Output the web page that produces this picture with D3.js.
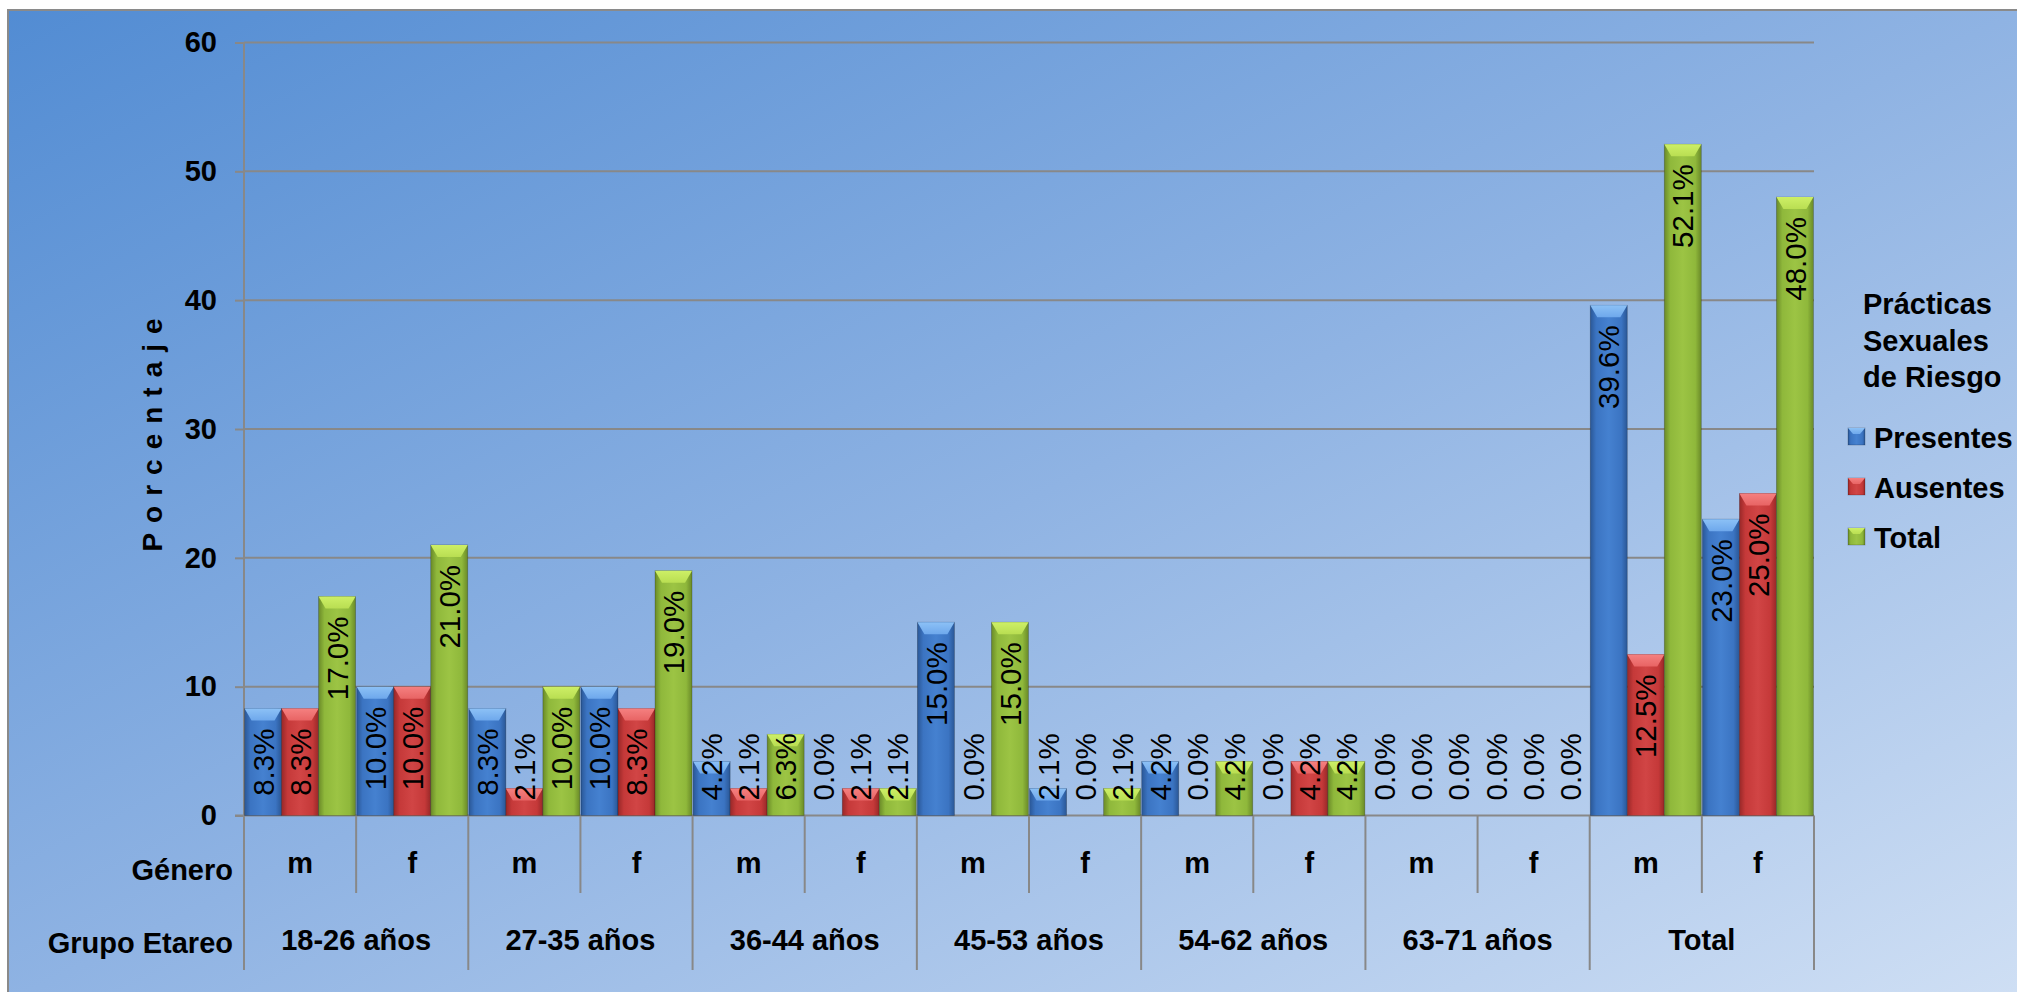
<!DOCTYPE html>
<html><head><meta charset="utf-8">
<script src="https://cdn.jsdelivr.net/npm/d3@7/dist/d3.min.js"></script>
<style>
html,body{margin:0;padding:0;background:#fff;}
svg{display:block;}
text{font-family:"Liberation Sans",Arial,Helvetica,sans-serif;}
</style></head>
<body>
<script>
// ---- data ----
const groups = ["18-26 años","27-35 años","36-44 años","45-53 años","54-62 años","63-71 años","Total"];
const genders = ["m","f"];
const seriesNames = ["Presentes","Ausentes","Total"];
const presentes = [8.3,10.0, 8.3,10.0, 4.2,0.0, 15.0,2.1, 4.2,0.0, 0.0,0.0, 39.6,23.0];
const ausentes  = [8.3,10.0, 2.1,8.3, 2.1,2.1, 0.0,0.0, 0.0,4.2, 0.0,0.0, 12.5,25.0];
const totales   = [17.0,21.0, 10.0,19.0, 6.3,2.1, 15.0,2.1, 4.2,4.2, 0.0,0.0, 52.1,48.0];
const yTicks = [0,10,20,30,40,50,60];
const legendTitle = ["Prácticas","Sexuales","de Riesgo"];
const yTitle = "Porcentaje";
const genderTitle = "Género";
const groupTitle = "Grupo Etareo";

const W = 2017, H = 992;
const svg = d3.select("body").append("svg").attr("width",W).attr("height",H);
const defs = svg.append("defs");

// backgrounds
const bg = defs.append("linearGradient").attr("id","bg").attr("x1",0).attr("y1",0).attr("x2",1).attr("y2",1);
bg.append("stop").attr("offset",0).attr("stop-color","#528cd3");
bg.append("stop").attr("offset",0.5).attr("stop-color","#8fb3e3");
bg.append("stop").attr("offset",1).attr("stop-color","#cfdff4");

svg.append("rect").attr("x",8).attr("y",10).attr("width",W).attr("height",H)
  .attr("fill","url(#bg)").attr("stroke","#8a8a8a").attr("stroke-width",2);

// series styles
const styles = {
  Presentes:{edge:"#2a5796", mid:"#3b74c2", center:"#4581d0", cap:"#6ea8ec", capTop:"#8cc1f6"},
  Ausentes:{edge:"#982828", mid:"#c53939", center:"#d14545", cap:"#e86464", capTop:"#f58080"},
  Total:{edge:"#6a8a28", mid:"#8fb83b", center:"#9cc444", cap:"#b9de52", capTop:"#cdef66"}
};
seriesNames.forEach((s,i)=>{
  const st = styles[s];
  const g = defs.append("linearGradient").attr("id","body"+i).attr("x1",0).attr("y1",0).attr("x2",1).attr("y2",0);
  [[0,st.edge],[0.16,st.mid],[0.5,st.center],[0.84,st.mid],[1,st.edge]].forEach(d=>g.append("stop").attr("offset",d[0]).attr("stop-color",d[1]));
  const c = defs.append("linearGradient").attr("id","cap"+i).attr("x1",0).attr("y1",0).attr("x2",0).attr("y2",1);
  c.append("stop").attr("offset",0).attr("stop-color",st.capTop);
  c.append("stop").attr("offset",1).attr("stop-color",st.cap);
});

const plotL = 244, plotR = 1814, plotT = 42.5, plotB = 815.5;
const y = d3.scaleLinear().domain([0,60]).range([plotB,plotT]);
const xg = d3.scaleBand().domain(groups).range([plotL,plotR]).padding(0);
const xs = d3.scaleBand().domain(genders).range([0,xg.bandwidth()]).padding(0);
const xb = d3.scaleBand().domain(seriesNames).range([0,xs.bandwidth()]).paddingInner(0).paddingOuter(0.015);

const valuesBySeries = {Presentes:presentes, Ausentes:ausentes, Total:totales};
const rows = [];
groups.forEach((g,gi)=>genders.forEach((s,si)=>{
  const idx = gi*2+si;
  seriesNames.forEach((n,ni)=>rows.push({group:g,gender:s,series:n,si:ni,value:valuesBySeries[n][idx]}));
}));

// gridlines
svg.append("g").selectAll("line").data(yTicks.filter(t=>t>0)).join("line")
  .attr("x1",plotL).attr("x2",plotR).attr("y1",d=>y(d)).attr("y2",d=>y(d))
  .attr("stroke","#888888").attr("stroke-width",2);

// y axis
const ya = svg.append("g").attr("transform",`translate(${plotL},0)`)
  .call(d3.axisLeft(y).tickValues(yTicks).tickSize(9).tickPadding(18));
ya.select(".domain").remove();
ya.selectAll(".tick line").attr("stroke","#888888").attr("stroke-width",2);
ya.selectAll(".tick text").attr("font-size",29).attr("font-weight","bold").attr("fill","#000")
  .attr("font-family","'Liberation Sans',Arial,sans-serif");

// axis lines
svg.append("line").attr("x1",plotL).attr("x2",plotL).attr("y1",plotT).attr("y2",970).attr("stroke","#888").attr("stroke-width",2);
svg.append("line").attr("x1",plotL-9).attr("x2",plotR).attr("y1",plotB).attr("y2",plotB).attr("stroke","#888").attr("stroke-width",2);

// category separators
const sepG = svg.append("g");
groups.forEach((g,gi)=>{
  const gx = xg(g);
  // gender separator between m and f
  sepG.append("line").attr("x1",gx+xs("f")).attr("x2",gx+xs("f")).attr("y1",plotB).attr("y2",893).attr("stroke","#888").attr("stroke-width",2);
  // group right boundary
  const rx = gx + xg.bandwidth();
  sepG.append("line").attr("x1",rx).attr("x2",rx).attr("y1",plotB).attr("y2",970).attr("stroke","#888").attr("stroke-width",2);
});

// bars
const barsG = svg.append("g");
rows.forEach(r=>{
  if (r.value <= 0) return;
  const x0 = xg(r.group)+xs(r.gender)+xb(r.series);
  const w = xb.bandwidth();
  const y0 = y(r.value), h = plotB - y0;
  barsG.append("rect").attr("x",x0).attr("y",y0).attr("width",w).attr("height",h)
    .attr("fill",`url(#body${r.si})`).attr("stroke","rgba(0,0,0,0.25)").attr("stroke-width",0.8);
  const capH = Math.min(12, h);
  const ins = Math.min(7, w/2);
  barsG.append("path")
    .attr("d",`M${x0},${y0}L${x0+w},${y0}L${x0+w-ins},${y0+capH}L${x0+ins},${y0+capH}Z`)
    .attr("fill",`url(#cap${r.si})`);
});

// data labels
const labG = svg.append("g");
rows.forEach(r=>{
  const cx = xg(r.group)+xs(r.gender)+xb(r.series)+xb.bandwidth()/2;
  const t = labG.append("text").attr("font-size",29.5).attr("fill","#000")
    .attr("text-anchor","start").attr("dy","0.36em")
    .text(r.value.toFixed(1)+"%");
  const len = t.node().getComputedTextLength();
  const bottom = Math.min(y(r.value)+20+len, plotB-15);
  t.attr("transform",`translate(${cx},${bottom}) rotate(-90)`);
});

// category labels
const catG = svg.append("g").attr("font-weight","bold").attr("font-size",29).attr("fill","#000");
groups.forEach(g=>{
  genders.forEach(s=>{
    catG.append("text").attr("x",xg(g)+xs(s)+xs.bandwidth()/2).attr("y",873).attr("text-anchor","middle").text(s);
  });
  catG.append("text").attr("x",xg(g)+xg.bandwidth()/2).attr("y",950).attr("text-anchor","middle").text(g);
});
catG.append("text").attr("x",233).attr("y",880).attr("text-anchor","end").text(genderTitle);
catG.append("text").attr("x",233).attr("y",953).attr("text-anchor","end").text(groupTitle);

// y title
svg.append("text").attr("transform","translate(162,430) rotate(-90)")
  .attr("text-anchor","middle").attr("font-weight","bold").attr("font-size",28)
  .attr("letter-spacing","10px").text(yTitle);

// legend
const lg = svg.append("g").attr("font-weight","bold").attr("font-size",29).attr("fill","#000");
legendTitle.forEach((t,i)=>lg.append("text").attr("x",1863).attr("y",314+i*36.5).text(t));
seriesNames.forEach((s,i)=>{
  const sy = 428 + i*50;
  lg.append("rect").attr("x",1848).attr("y",sy).attr("width",17).attr("height",17)
    .attr("fill",`url(#body${i})`).attr("stroke","rgba(0,0,0,0.25)").attr("stroke-width",0.8);
  lg.append("path").attr("d",`M1848,${sy}L1865,${sy}L1860,${sy+6}L1853,${sy+6}Z`).attr("fill",`url(#cap${i})`);
  lg.append("text").attr("x",1874).attr("y",sy+20).text(s);
});
</script>
</body></html>
